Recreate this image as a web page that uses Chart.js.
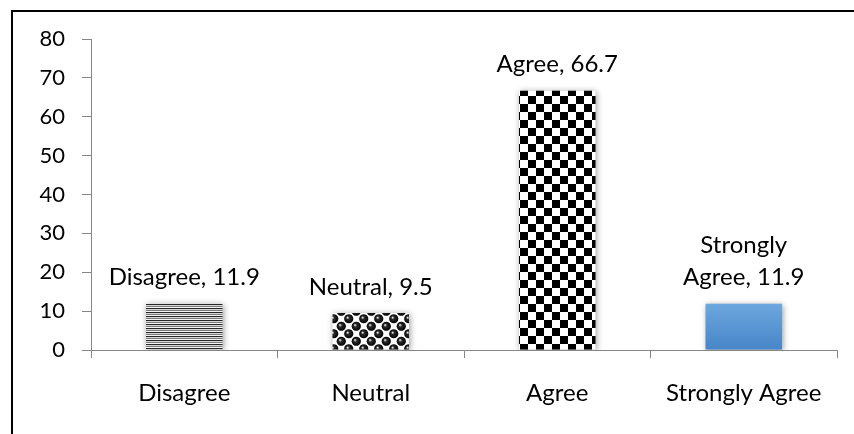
<!DOCTYPE html>
<html>
<head>
<meta charset="utf-8">
<script src="https://cdn.jsdelivr.net/npm/chart.js@4/dist/chart.umd.min.js"></script>
<style>
  html, body { margin: 0; padding: 0; background: #ffffff; }
  #wrap { width: 854px; height: 434px; position: relative; }
</style>
</head>
<body>
<div id="wrap"><canvas id="c" width="854" height="434"></canvas></div>
<script>
// Survey responses (percent)
const categories = ['Disagree', 'Neutral', 'Agree', 'Strongly Agree'];
const percentages = [11.9, 9.5, 66.7, 11.9];
const yTicks = [0, 10, 20, 30, 40, 50, 60, 70, 80];

const FONT = 'Lato, "Open Sans", sans-serif';
const FONT_SIZE = 24;
const TICK_FONT_SIZE = 22;
const AXIS_GREY = '#868686';

function tile(w, h, paint) {
  const t = document.createElement('canvas');
  t.width = w; t.height = h;
  const g = t.getContext('2d');
  paint(g);
  return document.getElementById('c').getContext('2d').createPattern(t, 'repeat');
}

// Horizontal stripes
const stripePattern = tile(4, 4, g => {
  const rows = ['#262626', '#d8d8d8', '#7a7a7a', '#f4f4f4'];
  rows.forEach((col, i) => { g.fillStyle = col; g.fillRect(0, i, 4, 1); });
});

// Shaded spheres on a checker
const spherePattern = tile(15, 15, g => {
  g.fillStyle = '#ffffff';
  g.fillRect(0, 0, 15, 15);
  const dot = (cx, cy) => {
    const rg = g.createRadialGradient(cx - 1.3, cy - 1.3, 0.3, cx, cy, 4.8);
    rg.addColorStop(0, '#e8e8e8');
    rg.addColorStop(0.3, '#2a2a2a');
    rg.addColorStop(1, '#000000');
    g.fillStyle = rg;
    g.beginPath(); g.arc(cx, cy, 4.6, 0, Math.PI * 2); g.fill();
  };
  [[3.75, 3.75], [11.25, 11.25], [-3.75, 11.25], [18.75, 3.75], [11.25, -3.75], [3.75, 18.75]]
    .forEach(p => dot(p[0], p[1]));
});

// Large checkerboard
const checkerPattern = tile(16, 16, g => {
  g.fillStyle = '#ffffff'; g.fillRect(0, 0, 16, 16);
  g.fillStyle = '#000000';
  g.fillRect(0, 0, 8, 8); g.fillRect(8, 8, 8, 8);
});

function barFill(ctx) {
  const i = ctx.dataIndex;
  if (i === 0) return stripePattern;
  if (i === 1) return spherePattern;
  if (i === 2) return checkerPattern;
  const chart = ctx.chart;
  const y = chart.scales.y;
  if (!y) return '#5b9bd5';
  const top = y.getPixelForValue(percentages[i]);
  const bottom = y.getPixelForValue(0);
  const gr = chart.ctx.createLinearGradient(0, top, 0, bottom);
  gr.addColorStop(0, '#6ea7df');
  gr.addColorStop(1, '#4685c8');
  return gr;
}

// Soft drop shadow behind the bars
const barShadow = {
  id: 'barShadow',
  beforeDatasetsDraw(chart) {
    const c = chart.ctx;
    c.save();
    c.shadowColor = 'rgba(0,0,0,0.4)';
    c.shadowBlur = 6;
    c.shadowOffsetX = 1;
    c.shadowOffsetY = 1;
  },
  afterDatasetsDraw(chart) { chart.ctx.restore(); }
};

// "Category, value" text above each bar
const valueLabels = {
  id: 'valueLabels',
  afterDatasetsDraw(chart) {
    const c = chart.ctx;
    const meta = chart.getDatasetMeta(0);
    c.save();
    c.font = FONT_SIZE + 'px ' + FONT;
    c.fillStyle = '#000000';
    c.textAlign = 'center';
    c.textBaseline = 'middle';
    meta.data.forEach((bar, i) => {
      const text = categories[i] + ', ' + percentages[i];
      const lines = text.length > 16 ? ['Strongly', 'Agree, ' + percentages[i]] : [text];
      const lineH = 32;
      let y = bar.y - 26 - (lines.length - 1) * lineH;
      lines.forEach(l => { c.fillText(l, bar.x, y); y += lineH; });
    });
    c.restore();
  }
};

// Outer frame
const frame = {
  id: 'frame',
  beforeDraw(chart) {
    const c = chart.ctx;
    c.save();
    c.fillStyle = '#ffffff';
    c.fillRect(0, 0, chart.width, chart.height);
    c.strokeStyle = '#000000';
    c.lineWidth = 2;
    c.strokeRect(12, 11, 900, 500);
    c.restore();
  }
};

new Chart(document.getElementById('c'), {
  type: 'bar',
  data: {
    labels: categories,
    datasets: [{
      data: percentages,
      backgroundColor: barFill,
      borderWidth: 0,
      categoryPercentage: 1.0,
      barPercentage: 0.41
    }]
  },
  options: {
    responsive: false,
    animation: false,
    layout: { padding: { left: 0, right: 17, top: 39, bottom: 0 } },
    plugins: { legend: { display: false }, tooltip: { enabled: false } },
    scales: {
      x: {
        grid: { offset: true, drawOnChartArea: false, drawTicks: true, tickLength: 8, color: AXIS_GREY },
        border: { color: AXIS_GREY, width: 1 },
        ticks: { color: '#000000', padding: 21, font: { family: FONT, size: FONT_SIZE } },
        afterFit(scale) { scale.height = 84; }
      },
      y: {
        min: 0, max: 80,
        afterBuildTicks(scale) { scale.ticks = yTicks.map(v => ({ value: v })); },
        grid: { drawOnChartArea: false, drawTicks: true, tickLength: 9, color: AXIS_GREY },
        border: { color: AXIS_GREY, width: 1 },
        ticks: { color: '#000000', padding: 17, font: { family: FONT, size: TICK_FONT_SIZE } },
        afterFit(scale) { scale.width = 91; }
      }
    }
  },
  plugins: [frame, barShadow, valueLabels]
});
</script>
</body>
</html>
